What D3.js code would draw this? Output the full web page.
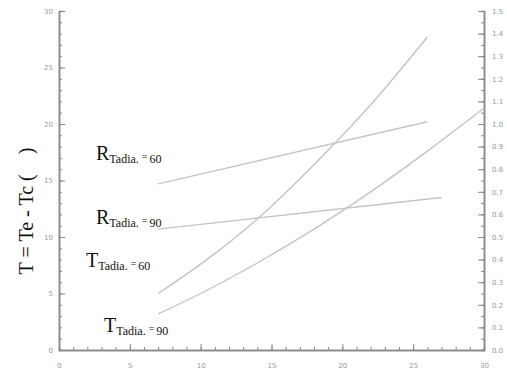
<!DOCTYPE html>
<html>
<head>
<meta charset="utf-8">
<script src="https://cdn.jsdelivr.net/npm/d3@7"></script>
<style>
  body { margin: 0; background: #fff; }
  svg { display: block; }
  .tick text { font-family: "DejaVu Sans", sans-serif; font-size: 7px; fill: #999; }
</style>
</head>
<body>
<svg id="chart" width="507" height="374"></svg>
<script>
// curve data
var xT60 = [7, 10, 14, 18, 22, 26];
var T60 = [5.0, 7.6, 11.6, 16.4, 21.7, 27.7];
var xT90 = [7, 10, 14, 18, 22, 26, 30];
var T90 = [3.2, 5.0, 7.7, 10.7, 14.0, 17.6, 21.4];
var xR60 = [7, 26];
var R60 = [14.7, 20.2];
var xR90 = [7, 27];
var R90 = [10.7, 13.5];

var xTicks = [0, 5, 10, 15, 20, 25, 30];
var yTicks = [0, 5, 10, 15, 20, 25, 30];
var rTicks = [0, 0.1, 0.2, 0.3, 0.4, 0.5, 0.6, 0.7, 0.8, 0.9, 1.0, 1.1, 1.2, 1.3, 1.4, 1.5];

var serif = "'Liberation Serif', 'Times New Roman', serif";

var svg = d3.select("#chart");
var margin = {left: 59, right: 23, top: 11, bottom: 24};
var width = 507 - margin.left - margin.right;
var height = 374 - margin.top - margin.bottom;

var chart = svg.append("g")
  .attr("transform", "translate(" + margin.left + "," + margin.top + ")");

var x = d3.scaleLinear().domain([0, 30]).range([0, width]);
var y = d3.scaleLinear().domain([0, 30]).range([height, 0]);
var yr = d3.scaleLinear().domain([0, 1.5]).range([height, 0]);

var axisColor = "#888";

// minor ticks first, no labels
chart.append("g")
  .attr("transform", "translate(0," + height + ")")
  .call(d3.axisTop(x).tickValues(d3.range(0, 31)).tickSize(3).tickFormat(""));
chart.append("g")
  .call(d3.axisRight(y).tickValues(d3.range(0, 31)).tickSize(3).tickFormat(""));
chart.append("g")
  .attr("transform", "translate(" + width + ",0)")
  .call(d3.axisLeft(yr).tickValues(d3.range(0, 31).map(function(d) { return d * 0.05; })).tickSize(3).tickFormat(""));

// major ticks
var xAxis = chart.append("g")
  .attr("transform", "translate(0," + height + ")")
  .call(d3.axisTop(x).tickValues(xTicks).tickSize(6).tickSizeOuter(0).tickFormat(d3.format("d")));
xAxis.selectAll("text").attr("y", 13).attr("dy", "0.71em");

var yAxis = chart.append("g")
  .call(d3.axisRight(y).tickValues(yTicks).tickSize(6).tickSizeOuter(0).tickFormat(d3.format("d")));
yAxis.selectAll("text").attr("x", -6).attr("text-anchor", "end");

var rAxis = chart.append("g")
  .attr("transform", "translate(" + width + ",0)")
  .call(d3.axisLeft(yr).tickValues(rTicks).tickSize(6).tickSizeOuter(0).tickFormat(d3.format(".1f")));
rAxis.selectAll("text").attr("x", 8).attr("text-anchor", "start");

chart.selectAll(".domain").attr("stroke", axisColor).attr("stroke-width", 1.5);
chart.selectAll(".tick line").attr("stroke", axisColor);

// curves
var line = d3.line()
  .x(function(d) { return x(d[0]); })
  .y(function(d) { return y(d[1]); })
  .curve(d3.curveNatural);

var series = [
  [xT60, T60],
  [xT90, T90],
  [xR60, R60],
  [xR90, R90]
];
series.forEach(function(s) {
  chart.append("path")
    .datum(d3.zip(s[0], s[1]))
    .attr("d", line)
    .attr("fill", "none")
    .attr("stroke", "#c4c4c4")
    .attr("stroke-width", 1.4);
});

// series labels
function addLabel(big, num, px, py) {
  var t = svg.append("text")
    .attr("font-family", serif)
    .attr("fill", "#111")
    .attr("x", px).attr("y", py);
  t.append("tspan").attr("font-size", 20).text(big);
  t.append("tspan").attr("font-size", 12).attr("dy", 3).text("Tadia.");
  t.append("tspan").attr("font-size", 10).attr("dy", -3).attr("dx", 3).text("=");
  t.append("tspan").attr("font-size", 12).attr("dy", 3).attr("dx", 2).text(num);
}
addLabel("R", "60", 96, 160);
addLabel("R", "90", 96, 224);
addLabel("T", "60", 86, 267);
addLabel("T", "90", 104, 332);

// y axis title
svg.append("text")
  .attr("font-family", serif)
  .attr("fill", "#111")
  .attr("font-size", 20)
  .attr("text-anchor", "middle")
  .attr("transform", "translate(33,211) rotate(-90)")
  .text("T = Te - Tc (\u2003)");
</script>
</body>
</html>
